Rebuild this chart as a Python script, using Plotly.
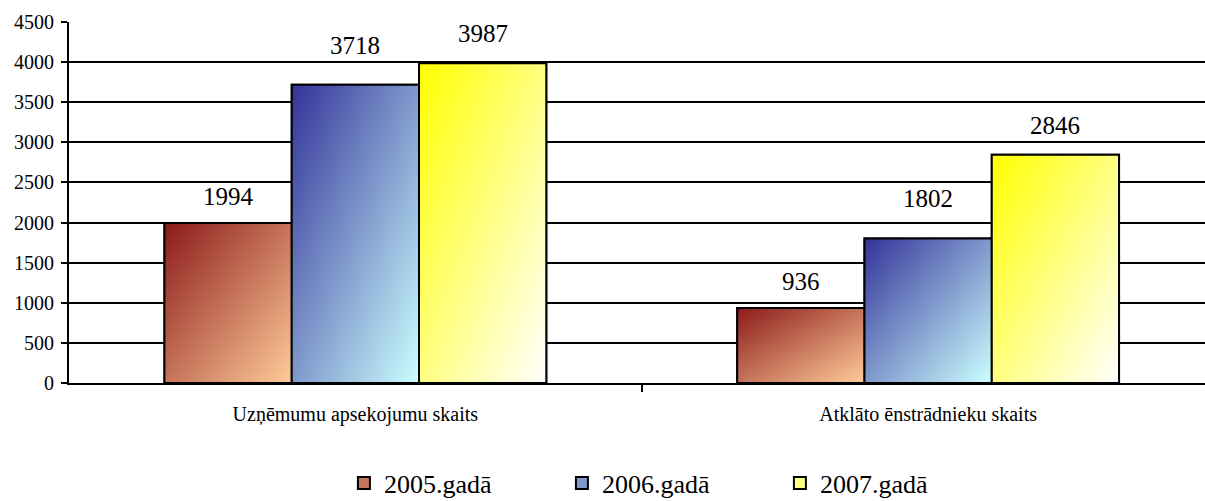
import plotly.graph_objects as go

categories = ["Uzņēmumu apsekojumu skaits", "Atklāto ēnstrādnieku skaits"]
series_names = ["2005.gadā", "2006.gadā", "2007.gadā"]
values_2005 = [1994, 936]
values_2006 = [3718, 1802]
values_2007 = [3987, 2846]
y_ticks = [0, 500, 1000, 1500, 2000, 2500, 3000, 3500, 4000, 4500]

all_values = [values_2005, values_2006, values_2007]

# styling
dark_colors = [(139, 26, 26), (51, 51, 153), (255, 255, 0)]
light_colors = [(255, 204, 153), (204, 255, 255), (255, 255, 255)]
label_shift_px = [11, 24, 14]  # per-series distance of value labels above bars

FONT = "Liberation Serif, Times New Roman, DejaVu Serif, serif"
BARGAP = 1 / 3
n_series = len(series_names)
bar_w = (1 - BARGAP) / n_series


def rgb(c, a=None):
    if a is None:
        return f"rgb({c[0]},{c[1]},{c[2]})"
    return f"rgba({c[0]},{c[1]},{c[2]},{a})"


fig = go.Figure()
x_pos = list(range(len(categories)))

# real bars (for legend and structure)
for k, name in enumerate(series_names):
    d, l = dark_colors[k], light_colors[k]
    mid = tuple((a + b) // 2 for a, b in zip(d, l))
    fig.add_trace(go.Bar(
        x=x_pos, y=all_values[k], name=name,
        marker=dict(color=rgb(mid), line=dict(color="black", width=2)),
        hoverinfo="skip",
    ))

# gradient overlays for each bar (diagonal gradient = vertical + half-alpha horizontal)
for k in range(n_series):
    d, l = dark_colors[k], light_colors[k]
    for j, v in enumerate(all_values[k]):
        cx = j + (k - (n_series - 1) / 2) * bar_w
        left, right = cx - bar_w / 2, cx + bar_w / 2
        xs = [left, right, right, left, left]
        ys = [0, 0, v, v, 0]
        fig.add_trace(go.Scatter(
            x=xs, y=ys, mode="lines", fill="toself",
            line=dict(width=0, color="rgba(0,0,0,0)"),
            fillgradient=dict(type="vertical", colorscale=[[0, rgb(l)], [1, rgb(d)]]),
            showlegend=False, hoverinfo="skip",
        ))
        fig.add_trace(go.Scatter(
            x=xs, y=ys, mode="lines", fill="toself",
            line=dict(width=2, color="black"),
            fillgradient=dict(type="horizontal",
                              colorscale=[[0, rgb(d, 0.5)], [1, rgb(l, 0.5)]]),
            showlegend=False, hoverinfo="skip",
        ))
        fig.add_annotation(
            x=cx, y=v, text=str(v), showarrow=False, yanchor="bottom",
            yshift=label_shift_px[k],
            font=dict(family=FONT, size=25, color="black"),
        )

fig.update_layout(
    width=1205, height=501,
    margin=dict(l=69, r=0, t=22, b=118, autoexpand=False),
    paper_bgcolor="white", plot_bgcolor="white",
    barmode="group", bargap=BARGAP, bargroupgap=0,
    font=dict(family=FONT, color="black"),
    legend=dict(
        orientation="h", x=0.242, xanchor="left", y=-0.277, yanchor="middle",
        font=dict(family=FONT, size=26, color="black"),
        entrywidth=173, itemwidth=30,
    ),
    showlegend=True,
)

fig.update_xaxes(
    range=[-0.5, 1.4834], tickmode="array", tickvals=x_pos, ticktext=categories,
    ticks="outside", ticklen=0, tickfont=dict(family=FONT, size=20, color="black"),
    ticklabelstandoff=12,
    showline=True, linecolor="black", linewidth=2, showgrid=False, zeroline=False,
    minor=dict(tickmode="array", tickvals=[0.5], ticks="outside", ticklen=7,
               tickwidth=2, tickcolor="black", showgrid=False),
    fixedrange=True,
)
fig.update_yaxes(
    range=[0, 4500], tickmode="array", tickvals=y_ticks,
    ticks="outside", ticklen=6, tickwidth=2, tickcolor="black",
    tickfont=dict(family=FONT, size=20, color="black"),
    ticklabelstandoff=3,
    showline=True, linecolor="black", linewidth=2,
    showgrid=True, gridcolor="black", gridwidth=2, zeroline=False,
    fixedrange=True,
)

fig.write_html(
    "out.html",
    config={"displayModeBar": False},
    post_script="document.body.style.margin='0';document.body.style.overflow='hidden';",
)
